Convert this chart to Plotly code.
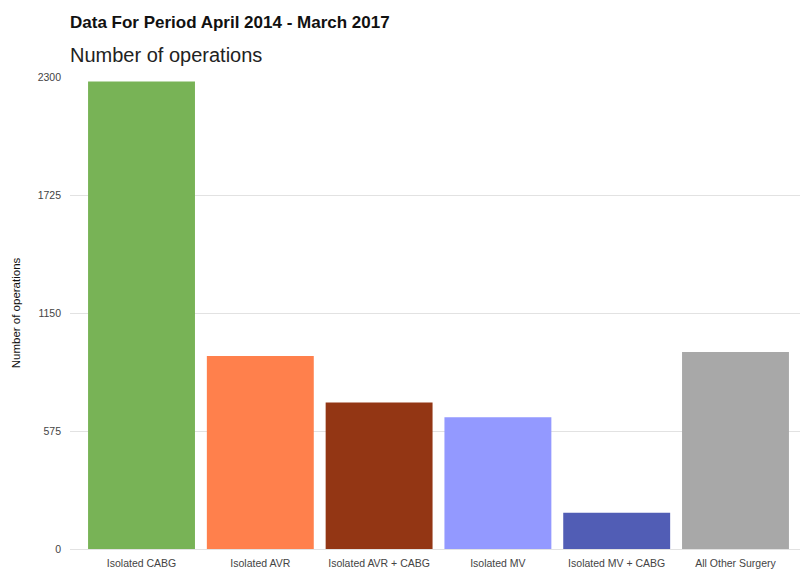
import plotly.graph_objects as go

# Operation counts by procedure group, April 2014 - March 2017
categories = ["Isolated CABG", "Isolated AVR", "Isolated AVR + CABG",
              "Isolated MV", "Isolated MV + CABG", "All Other Surgery"]
operations = [2278, 941, 714, 642, 177, 960]
bar_colors = ["#78B356", "#FF804C", "#933614", "#9399FF", "#515DB5", "#A8A8A8"]
y_ticks = [0, 575, 1150, 1725, 2300]

fig = go.Figure(
    go.Bar(
        x=list(range(len(categories))),
        y=operations,
        marker=dict(color=bar_colors, line=dict(width=0)),
        width=0.9,
        hovertemplate="%{customdata}: %{y}<extra></extra>",
        customdata=categories,
    )
)

fig.update_layout(
    width=800,
    height=569,
    margin=dict(l=70, r=0, t=77, b=20),
    paper_bgcolor="white",
    plot_bgcolor="white",
    font=dict(family="Liberation Sans, Arial, sans-serif", color="#444"),
    showlegend=False,
    title=dict(
        text="<b>Data For Period April 2014 - March 2017</b>",
        x=70 / 800, xanchor="left", xref="container",
        y=1 - 22 / 569, yanchor="middle", yref="container",
        font=dict(size=17, color="#111"),
    ),
    annotations=[
        dict(
            text="Number of operations",
            xref="paper", yref="paper",
            x=-2 / 730, y=1 + 22 / 472, xanchor="left", yanchor="middle",
            showarrow=False,
            font=dict(size=20, color="#222"),
        )
    ],
    xaxis=dict(
        tickmode="array",
        tickvals=list(range(len(categories))),
        ticktext=categories,
        range=[-0.602, 5.543],
        showgrid=False,
        zeroline=False,
        showline=False,
        ticks="",
        automargin=False,
        ticklabelstandoff=6,
        tickfont=dict(size=10.5, color="#444"),
    ),
    yaxis=dict(
        range=[0, 2300],
        tickmode="array",
        tickvals=y_ticks,
        showgrid=True,
        gridcolor="#E2E2E2",
        gridwidth=1,
        zeroline=True,
        zerolinecolor="#E2E2E2",
        zerolinewidth=1,
        showline=False,
        ticks="",
        automargin=False,
        ticklabelstandoff=8,
        tickfont=dict(size=10.5, color="#444"),
        title=dict(text="Number of operations", font=dict(size=11.5, color="#111"), standoff=14),
    ),
)

fig.write_html("out.html")
